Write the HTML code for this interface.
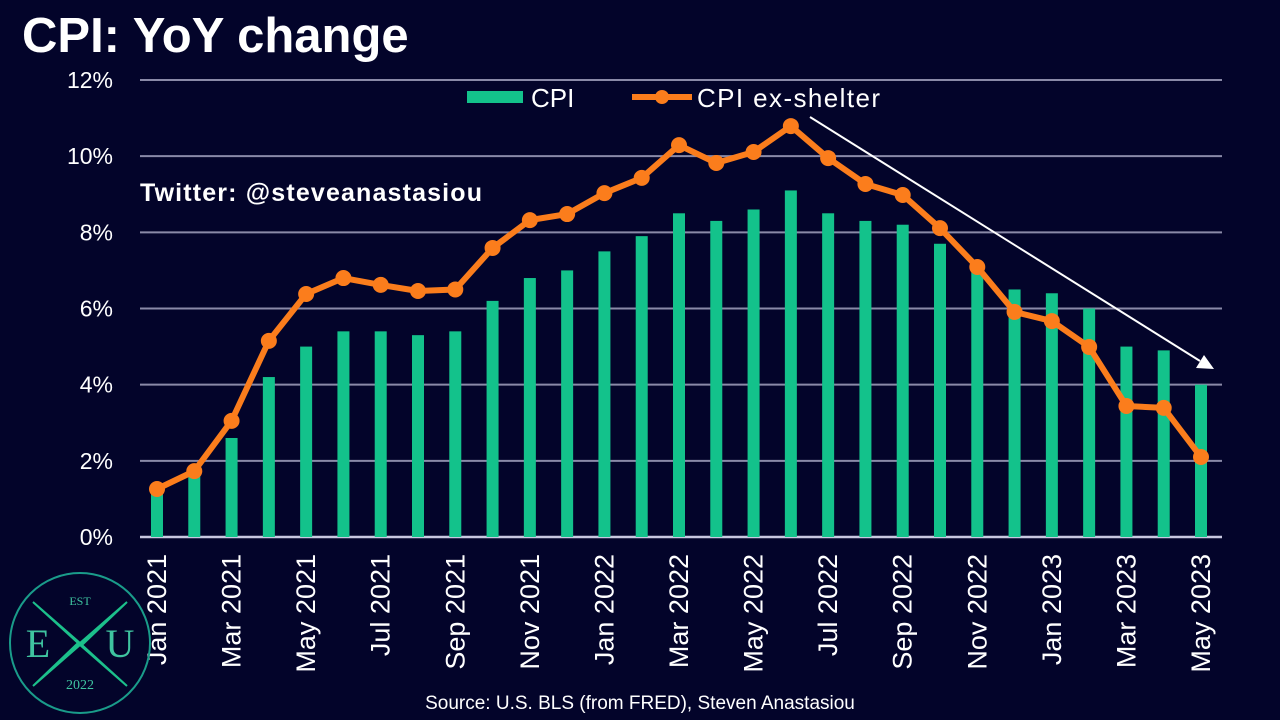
<!DOCTYPE html>
<html><head><meta charset="utf-8"><style>
body{margin:0;background:#03042a;width:1280px;height:720px;overflow:hidden;font-family:"Liberation Sans",sans-serif;}
svg{display:block}
</style></head><body>
<svg id="c" width="1280" height="720">
<rect width="1280" height="720" fill="#03042a"/>
<text x="22" y="52" font-size="49" font-weight="bold" fill="#fff">CPI: YoY change</text>
<text x="140" y="201" font-size="25" font-weight="bold" fill="#fff" textLength="342">Twitter: @steveanastasiou</text>
<text x="640" y="709" font-size="19" fill="#fff" text-anchor="middle">Source: U.S. BLS (from FRED), Steven Anastasiou</text>
<g id="grid"></g><g id="bars"></g><g id="line"></g><g id="xl"></g>
<g>
<rect x="467" y="91" width="56" height="12" fill="#13c28b"/>
<text x="531" y="107" font-size="26" fill="#fff">CPI</text>
<line x1="632" y1="97" x2="692" y2="97" stroke="#fb7d1c" stroke-width="6"/>
<circle cx="662" cy="97" r="7" fill="#fb7d1c"/>
<text x="697" y="107" font-size="26" fill="#fff" textLength="183">CPI ex-shelter</text>
</g>
<g>
<line x1="810" y1="117" x2="1200" y2="361" stroke="#fff" stroke-width="2"/>
<polygon points="1214,369 1196,368 1204,355" fill="#fff"/>
</g>
<g>
<circle cx="80" cy="643" r="70" fill="none" stroke="#1a9c8a" stroke-width="2"/>
<path d="M33 602 L80 643 L127 602 L82 645 L127 686 L80 645 L33 686 L78 643 Z" fill="#1cc08b" stroke="#1cc08b" stroke-width="2"/>
<text x="80" y="605" font-family="Liberation Serif,serif" font-size="12" fill="#3fc4a0" text-anchor="middle">EST</text>
<text x="38" y="657" font-family="Liberation Serif,serif" font-size="40" fill="#3fc4a0" text-anchor="middle">E</text>
<text x="120" y="657" font-family="Liberation Serif,serif" font-size="40" fill="#3fc4a0" text-anchor="middle">U</text>
<text x="80" y="689" font-family="Liberation Serif,serif" font-size="14" fill="#3fc4a0" text-anchor="middle">2022</text>
</g>
</svg>
<script>
const months=["Jan 2021","Feb 2021","Mar 2021","Apr 2021","May 2021","Jun 2021","Jul 2021","Aug 2021","Sep 2021","Oct 2021","Nov 2021","Dec 2021","Jan 2022","Feb 2022","Mar 2022","Apr 2022","May 2022","Jun 2022","Jul 2022","Aug 2022","Sep 2022","Oct 2022","Nov 2022","Dec 2022","Jan 2023","Feb 2023","Mar 2023","Apr 2023","May 2023"];
const cpi=[1.4,1.7,2.6,4.2,5.0,5.4,5.4,5.3,5.4,6.2,6.8,7.0,7.5,7.9,8.5,8.3,8.6,9.1,8.5,8.3,8.2,7.7,7.1,6.5,6.4,6.0,5.0,4.9,4.0];
const exShelter=[1.26,1.73,3.05,5.15,6.38,6.8,6.62,6.46,6.5,7.59,8.32,8.48,9.03,9.43,10.29,9.82,10.11,10.79,9.95,9.27,8.98,8.11,7.09,5.91,5.67,4.99,3.44,3.39,2.1];
const yTicks=[0,2,4,6,8,10,12];
const NS="http://www.w3.org/2000/svg";
const x=i=>157+i*(1201-157)/(months.length-1);
const y=v=>537-v*(537-80)/12;
function mk(t,a,p){const e=document.createElementNS(NS,t);for(const k in a)e.setAttribute(k,a[k]);p.appendChild(e);return e;}
const g=document.getElementById('grid');
yTicks.forEach(t=>{
 const l=mk('line',{x1:140,x2:1222,y1:y(t),y2:y(t),stroke:t===0?'#c8c8e0':'#8a8aa8','stroke-width':t===0?2.5:2},g);
 
 
 const tx=mk('text',{x:113,y:y(t)+8,'font-size':23,fill:'#fff','text-anchor':'end'},g);
 tx.textContent=t+'%';
 
 
});
const b=document.getElementById('bars');
cpi.forEach((v,i)=>{
 const r=mk('rect',{x:x(i)-6,y:y(v),width:12,height:y(0)-y(v),fill:'#13c28b'},b);
 
 
});
const L=document.getElementById('line');
const pl=mk('polyline',{points:exShelter.map((v,i)=>x(i)+','+y(v)).join(' '),fill:'none',stroke:'#fb7d1c','stroke-width':6,'stroke-linejoin':'round'},L);


exShelter.forEach((v,i)=>{
 const c=mk('circle',{cx:x(i),cy:y(v),r:8,fill:'#fb7d1c'},L);
 
 
});
const X=document.getElementById('xl');
months.forEach((m,i)=>{
 if(i%2)return;
 const t=mk('text',{x:0,y:0,'font-size':27,fill:'#fff','text-anchor':'end',transform:`translate(${x(i)+9},554) rotate(-90)`},X);
 t.textContent=m;
 
 
});
</script>
</body></html>
